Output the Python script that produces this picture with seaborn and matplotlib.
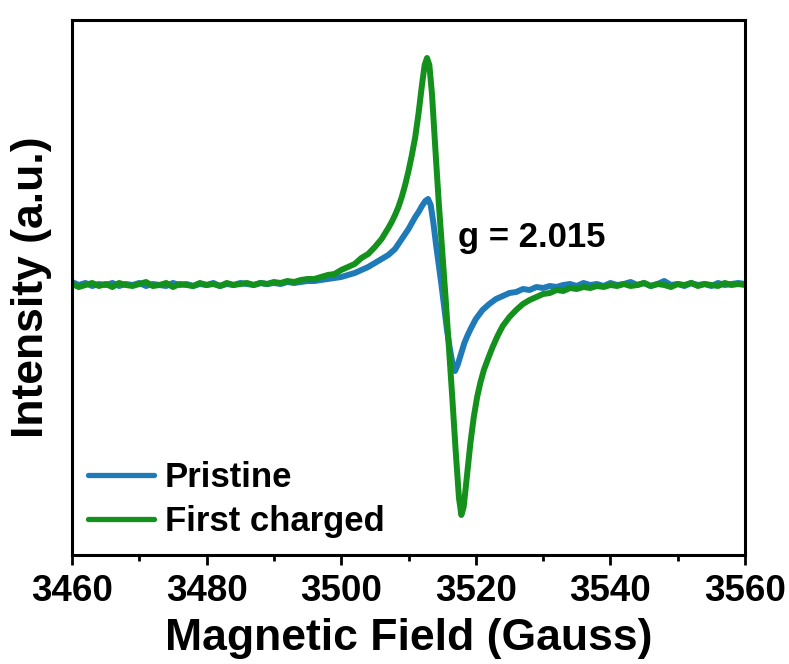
import numpy as np
import pandas as pd
import matplotlib
matplotlib.use("Agg")
import matplotlib.pyplot as plt
from matplotlib.ticker import MultipleLocator
from matplotlib.lines import Line2D
import seaborn as sns

# ---------------- data ----------------
field_pristine = [
    3460, 3461, 3462, 3463, 3464, 3465, 3466, 3467, 3468, 3469,
    3470, 3471, 3472, 3473, 3474, 3475, 3476, 3477, 3478, 3479,
    3480, 3481, 3482, 3483, 3484, 3485, 3486, 3487, 3488, 3489,
    3490, 3491, 3492, 3493, 3494, 3495, 3496, 3497, 3498, 3499,
    3500, 3501, 3502, 3503, 3504, 3505, 3506, 3507, 3508, 3508.5,
    3509, 3509.5, 3510, 3510.5, 3511, 3511.5, 3512, 3512.5, 3512.9, 3513.3,
    3513.7, 3514.1, 3514.5, 3514.9, 3515.3, 3515.7, 3516.1, 3516.5, 3516.9, 3517.3,
    3517.8, 3518.3, 3518.8, 3519.3, 3520, 3521, 3522, 3523, 3524, 3525,
    3526, 3527, 3528, 3529, 3530, 3531, 3532, 3533, 3534, 3535,
    3536, 3537, 3538, 3539, 3540, 3541, 3542, 3543, 3544, 3545,
    3546, 3547, 3548, 3549, 3550, 3551, 3552, 3553, 3554, 3555,
    3556, 3557, 3558, 3559, 3560,
]
intensity_pristine = [
    3, 0, 2, -1, 1, 0, 2, -1, 1, 0,
    2, -1, 1, 0, -1, 2, 0, 1, -1, 1,
    0, 2, -1, 1, 0, 2, 1, 0, 2, 1,
    2, 1, 3, 2, 3, 4, 4, 5, 6, 7,
    8, 10, 12, 15, 18, 22, 26, 30, 36, 41,
    46, 51, 56, 62, 68, 73, 79, 84, 86, 80,
    62, 40, 20, 0, -22, -44, -62, -77, -86, -80,
    -69, -58, -50, -43, -34, -25, -19, -14, -11, -8,
    -7, -4, -5, -2, -3, -1, -2, 0, 1, -1,
    2, 0, 1, -1, 2, 0, 1, 3, 0, 2,
    -1, 1, 4, 0, 1, -1, 2, 0, 1, -1,
    2, 0, 1, 2, 1,
]

field_charged = [
    3460, 3461, 3462, 3463, 3464, 3465, 3466, 3467, 3468, 3469,
    3470, 3471, 3472, 3473, 3474, 3475, 3476, 3477, 3478, 3479,
    3480, 3481, 3482, 3483, 3484, 3485, 3486, 3487, 3488, 3489,
    3490, 3491, 3492, 3493, 3494, 3495, 3496, 3497, 3498, 3499,
    3500, 3501, 3502, 3503, 3504, 3505, 3506, 3507, 3507.5, 3508,
    3508.5, 3509, 3509.5, 3510, 3510.5, 3511, 3511.5, 3512, 3512.4, 3512.75,
    3513.1, 3513.5, 3514, 3514.5, 3515, 3515.5, 3516, 3516.5, 3517, 3517.5,
    3517.85, 3518.2, 3518.7, 3519.2, 3519.7, 3520.2, 3520.7, 3521.2, 3521.8, 3522.5,
    3523.3, 3524, 3525, 3526, 3527, 3528, 3529, 3530, 3531, 3532,
    3533, 3534, 3535, 3536, 3537, 3538, 3539, 3540, 3541, 3542,
    3543, 3544, 3545, 3546, 3547, 3548, 3549, 3550, 3551, 3552,
    3553, 3554, 3555, 3556, 3557, 3558, 3559, 3560,
]
intensity_charged = [
    1, -2, 0, 2, -1, 1, -2, 2, 0, -1,
    1, 3, -1, 0, 2, -2, 1, 0, -1, 2,
    0, 1, -1, 2, 0, 1, 2, 0, 2, 1,
    3, 2, 4, 3, 5, 6, 6, 8, 10, 11,
    15, 18, 21, 27, 31, 38, 46, 57, 63, 70,
    78, 88, 100, 114, 130, 148, 172, 200, 220, 227,
    220, 190, 135, 82, 35, -12, -62, -112, -165, -213,
    -230, -222, -190, -158, -132, -112, -97, -85, -74, -62,
    -50, -41, -32, -25, -19, -15, -12, -9, -8, -5,
    -6, -3, -4, -2, -3, -1, -2, 0, -1, 1,
    -1, 0, 2, -1, 1, 0, -2, 1, 0, 2,
    -1, 1, 0, -1, 2, 0, 1, 0,
]

series_labels = ["Pristine", "First charged"]
x_ticks = [3460, 3480, 3500, 3520, 3540, 3560]
annotation_text = "g = 2.015"

# ---------------- style ----------------
sns.set_style("ticks")
plt.rcParams["font.family"] = ["Liberation Sans", "DejaVu Sans"]
plt.rcParams["font.weight"] = "bold"
plt.rcParams["text.color"] = "black"
plt.rcParams["axes.labelcolor"] = "black"
plt.rcParams["xtick.color"] = "black"
plt.rcParams["ytick.color"] = "black"

colors = {"Pristine": "#1f7ab8", "First charged": "#14901c"}

df = pd.concat([
    pd.DataFrame({"field": field_pristine, "intensity": intensity_pristine,
                  "sample": series_labels[0]}),
    pd.DataFrame({"field": field_charged, "intensity": intensity_charged,
                  "sample": series_labels[1]}),
], ignore_index=True)

fig = plt.figure(figsize=(7.89, 6.64), dpi=100)
ax = fig.add_axes([72 / 789, 1 - 555 / 664, (745 - 72) / 789, (555 - 20) / 664])

sns.lineplot(data=df, x="field", y="intensity", hue="sample",
             hue_order=series_labels, palette=colors, estimator=None,
             sort=False, linewidth=4.3, ax=ax, legend=False)

ax.set_xlim(3460, 3560)
ax.set_ylim(-270, 265)
ax.set_xticks(x_ticks)
ax.xaxis.set_minor_locator(MultipleLocator(10))
ax.set_yticks([])

for sp in ax.spines.values():
    sp.set_visible(True)
    sp.set_linewidth(2.2)
    sp.set_color("black")

ax.tick_params(axis="x", which="major", direction="out", length=7.5, width=2.0,
               pad=6, top=False, labelsize=26.5, labelcolor="black")
ax.tick_params(axis="x", which="minor", direction="out", length=4, width=2.0,
               top=False)
for lab in ax.get_xticklabels():
    lab.set_fontweight("bold")

ax.set_xlabel("Magnetic Field (Gauss)", fontsize=32, fontweight="bold",
              labelpad=7, color="black")
ax.set_ylabel("Intensity (a.u.)", fontsize=32, fontweight="bold", color="black")
ax.yaxis.set_label_coords(-0.030, 0.5)

ax.text(3517.4, 47, annotation_text, fontsize=25, fontweight="bold",
        ha="left", va="center", color="black")

handles = [Line2D([0], [0], color=colors[s], lw=3.8, solid_capstyle="round")
           for s in series_labels]
leg = ax.legend(handles, series_labels, loc="lower left",
                bbox_to_anchor=(0.024, 0.032), frameon=False,
                prop={"weight": "bold", "size": 25},
                handlelength=1.9, handletextpad=0.3, labelspacing=0.3,
                borderpad=0, borderaxespad=0)
for t in leg.get_texts():
    t.set_color("black")

fig.savefig("out.png", dpi=100)
